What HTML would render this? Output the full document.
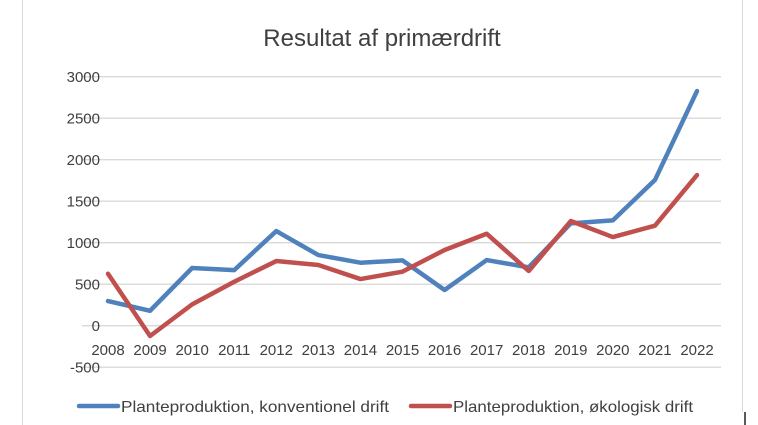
<!DOCTYPE html>
<html><head><meta charset="utf-8"><style>
html,body{margin:0;padding:0;background:#fff;}
svg{display:block;font-family:"Liberation Sans",Arial,sans-serif;}
</style></head><body>
<svg id="chart" width="758" height="425" viewBox="0 0 758 425">
<line x1="22.5" y1="0" x2="22.5" y2="425" stroke="#d9d9d9"/>
<line x1="742.5" y1="0" x2="742.5" y2="412" stroke="#d9d9d9"/>
<line x1="745" y1="412" x2="745" y2="425" stroke="#222" stroke-width="1.5"/>
<text x="382" y="46" text-anchor="middle" font-size="24" fill="#404040">Resultat af primærdrift</text>
<g id="grid"></g><g id="yticks"></g><g id="xticks"></g><g id="series"></g>
<g>
<line x1="79" y1="406" x2="118" y2="406" stroke="#4f81bd" stroke-width="4.5" stroke-linecap="round"/>
<text x="121" y="412" font-size="16" fill="#404040" textLength="268" lengthAdjust="spacingAndGlyphs">Planteproduktion, konventionel drift</text>
<line x1="411" y1="406" x2="450" y2="406" stroke="#c0504d" stroke-width="4.5" stroke-linecap="round"/>
<text x="453" y="412" font-size="16" fill="#404040" textLength="240" lengthAdjust="spacingAndGlyphs">Planteproduktion, økologisk drift</text>
</g>
</svg>
<script>
const categories=["2008","2009","2010","2011","2012","2013","2014","2015","2016","2017","2018","2019","2020","2021","2022"];
const konventionel=[297,180,695,670,1140,851,759,787,430,791,703,1233,1269,1755,2827];
const okologisk=[626,-124,257,530,779,731,562,651,912,1108,659,1261,1068,1205,1815];
const yTicks=[-500,0,500,1000,1500,2000,2500,3000];
const NS="http://www.w3.org/2000/svg";
const x0=108,dx=(697-108)/14;
function xs(i){return x0+i*dx;}
function ys(v){return 325.7-v*(249/3000);}
const grid=document.getElementById('grid'),yt=document.getElementById('yticks'),xt=document.getElementById('xticks'),ser=document.getElementById('series');
yTicks.forEach(v=>{
 const l=document.createElementNS(NS,'line');
 
 
 l.setAttribute('x1',82);l.setAttribute('x2',721);l.setAttribute('y1',ys(v));l.setAttribute('y2',ys(v));
 l.setAttribute('stroke','#d9d9d9');l.setAttribute('stroke-width','1.3');grid.appendChild(l);
 const t=document.createElementNS(NS,'text');
 
 
 t.setAttribute('x',100);t.setAttribute('y',ys(v)+5.5);t.setAttribute('text-anchor','end');
 t.setAttribute('font-size','15');t.setAttribute('fill','#404040');t.textContent=v;yt.appendChild(t);
});
categories.forEach((c,i)=>{
 const t=document.createElementNS(NS,'text');
 
 
 t.setAttribute('x',xs(i));t.setAttribute('y',355);t.setAttribute('text-anchor','middle');
 t.setAttribute('font-size','15');t.setAttribute('fill','#404040');t.textContent=c;xt.appendChild(t);
});
function line(arr,color,name){
 const p=document.createElementNS(NS,'polyline');
 
 
 p.setAttribute('points',arr.map((v,i)=>xs(i)+','+ys(v)).join(' '));
 p.setAttribute('fill','none');p.setAttribute('stroke',color);p.setAttribute('stroke-width','4.5');
 p.setAttribute('stroke-linejoin','round');p.setAttribute('stroke-linecap','round');ser.appendChild(p);
}
line(konventionel,'#4f81bd','series-konventionel');
line(okologisk,'#c0504d','series-okologisk');
</script>
</body></html>
